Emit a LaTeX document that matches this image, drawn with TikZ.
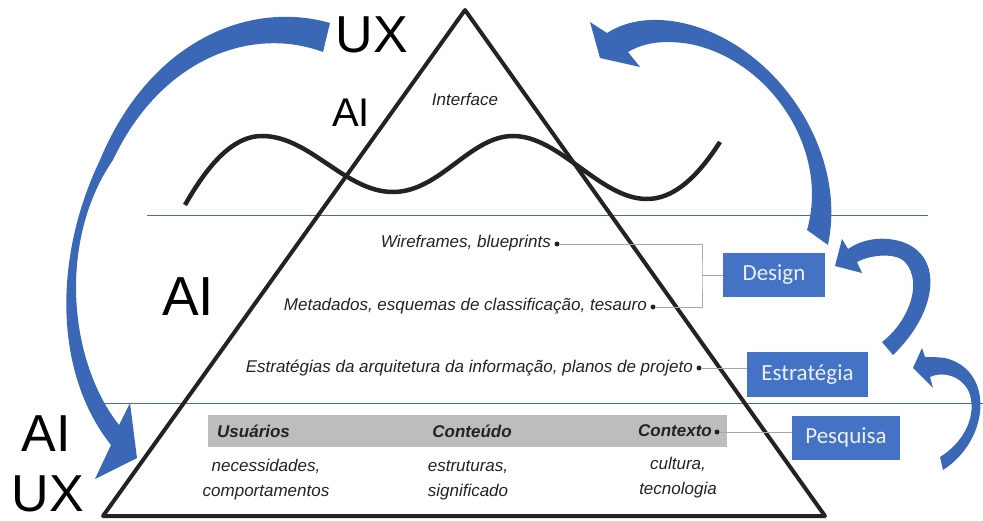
\documentclass[tikz,border=0pt]{standalone}
\usepackage{fontspec}
\setmainfont{Liberation Sans}
\newfontfamily\boxfont{Carlito}
\usepackage{xcolor}
\usepackage{tikz}
\usetikzlibrary{calc}

\definecolor{swooshblue}{HTML}{3B68B6}
\definecolor{boxblue}{HTML}{4472C4}
\definecolor{ruleblue}{HTML}{3F6BC0}
\definecolor{inkgray}{HTML}{232323}
\definecolor{bandgray}{HTML}{BDBDBD}
\definecolor{linkgray}{HTML}{A8A8A8}

\tikzset{
  biglabel/.style={font=\fontsize{#1}{#1}\selectfont, inner sep=0pt},
  biglabel/.default=52,
  note/.style={font=\fontsize{17}{25}\selectfont\itshape, inner sep=0pt, text=inkgray},
  bandlabel/.style={font=\fontsize{17}{20}\selectfont\bfseries\itshape, inner sep=0pt, text=inkgray},
  phasebox/.style={fill=boxblue, text=white!90!boxblue, font=\boxfont\fontsize{23}{25}\selectfont,
    minimum height=44pt, inner sep=0pt},
  dot/.style={circle, fill=inkgray, inner sep=0pt, minimum size=5pt},
  link/.style={linkgray, line width=0.9pt},
  layerrule/.style={ruleblue, line width=0.9pt},
  swoosh/.style={fill=swooshblue},
}

\begin{document}
\begin{tikzpicture}[x=1pt, y=-1pt]
\useasboundingbox (0,0) rectangle (983,521);

% layer rules
\draw[layerrule] (147,215) -- (928,215);
\draw[layerrule] (100,403) -- (983,403);

% research band
\fill[bandgray] (208,415) rectangle (727,447);

% pyramid
\coordinate (apex) at (465,10);
\coordinate (baseL) at (103,516);
\coordinate (baseR) at (825,516);
\draw[inkgray, line width=4pt, line join=round] (baseL) -- (apex) -- (baseR) -- cycle;

% interface wave
\draw[inkgray, line width=4.5pt] (185,205) .. controls (215,152) and (240,136) .. (262,136)
  .. controls (310,136) and (345,192) .. (393,192)
  .. controls (440,192) and (470,136) .. (513,136)
  .. controls (560,136) and (600,199) .. (647,199)
  .. controls (680,199) and (705,165) .. (720,142);

% big labels
\node[biglabel] (uxtop) at (372,35) {UX};
\node[biglabel=40] (aitop) at (351,113) {AI};
\node[biglabel=55] (aimid) at (188,297) {AI};
\node[biglabel] (aibot) at (46,434) {AI};
\node[biglabel] (uxbot) at (48,494) {UX};

% layer texts
\node[note] (iface) at (465,99) {Interface};
\node[note, anchor=base east] (wire) at (551,248) {Wireframes, blueprints};
\node[dot] (wiredot) at (557,244) {};
\node[note, anchor=base east] (meta) at (647,311) {Metadados, esquemas de classifica\c{c}\~ao, tesauro};
\node[dot] (metadot) at (653,307) {};
\node[note, anchor=base east] (plans) at (693,372.5) {Estrat\'egias da arquitetura da informa\c{c}\~ao, planos de projeto};
\node[dot] (stratdot) at (699,368) {};

% research band texts
\node[bandlabel, anchor=west] (users) at (217,431) {Usu\'arios};
\node[bandlabel] (content) at (472,431) {Conte\'udo};
\node[bandlabel, anchor=east] (context) at (712,431) {Contexto};
\node[dot] (ctxdot) at (717,432) {};
\node[note, align=center] (needs) at (266,480) {necessidades,\\comportamentos};
\node[note, align=center] (structs) at (468,480) {estruturas,\\significado};
\node[note, align=center] (culture) at (678,478) {cultura,\\tecnologia};

% phases
\node[phasebox, minimum width=102pt] (design) at (774,275) {Design};
\node[phasebox, minimum width=121pt] (strategy) at (807.5,374.5) {Estrat\'egia};
\node[phasebox, minimum width=108pt] (research) at (846,437.5) {Pesquisa};

% connectors
\coordinate (bracket) at (702,275);
\draw[link] (wiredot) -| (bracket) |- (metadot);
\draw[link] (bracket) -- (design);
\draw[link] (stratdot) -- (stratdot -| strategy.west);
\draw[link] (ctxdot) -- (ctxdot -| research.west);

% curved arrows
\fill[swoosh] (330,23) .. controls (250,0) and (150,40) .. (100,160)
  .. controls (52,260) and (55,375) .. (111,445)
  -- (95,479) -- (137,458) -- (130,403) -- (119,425)
  .. controls (68,360) and (58,240) .. (113,160)
  .. controls (160,60) and (250,25) .. (323,52) -- cycle;
\fill[swoosh] (828,245) .. controls (850,140) and (760,25) .. (660,20)
  .. controls (635,19) and (618,26) .. (607,33)
  -- (590,22) -- (600,58) -- (640,67) -- (628,52)
  .. controls (645,42) and (665,40) .. (690,44)
  .. controls (770,60) and (830,150) .. (807,230) -- cycle;
\fill[swoosh] (893,355) .. controls (940,310) and (945,250) .. (895,240)
  .. controls (875,236) and (858,242) .. (848,249)
  -- (842,239) -- (835,266) -- (862,273) -- (857,262)
  .. controls (870,255) and (895,252) .. (905,262)
  .. controls (925,285) and (905,325) .. (882,342) -- cycle;
\fill[swoosh] (943,470) .. controls (990,440) and (995,370) .. (945,358)
  .. controls (938,357) and (930,357) .. (925,357)
  -- (922,348) -- (913,368) -- (933,388) -- (930,377)
  .. controls (945,370) and (965,378) .. (970,395)
  .. controls (977,420) and (960,445) .. (940,457) -- cycle;
\end{tikzpicture}
\end{document}
